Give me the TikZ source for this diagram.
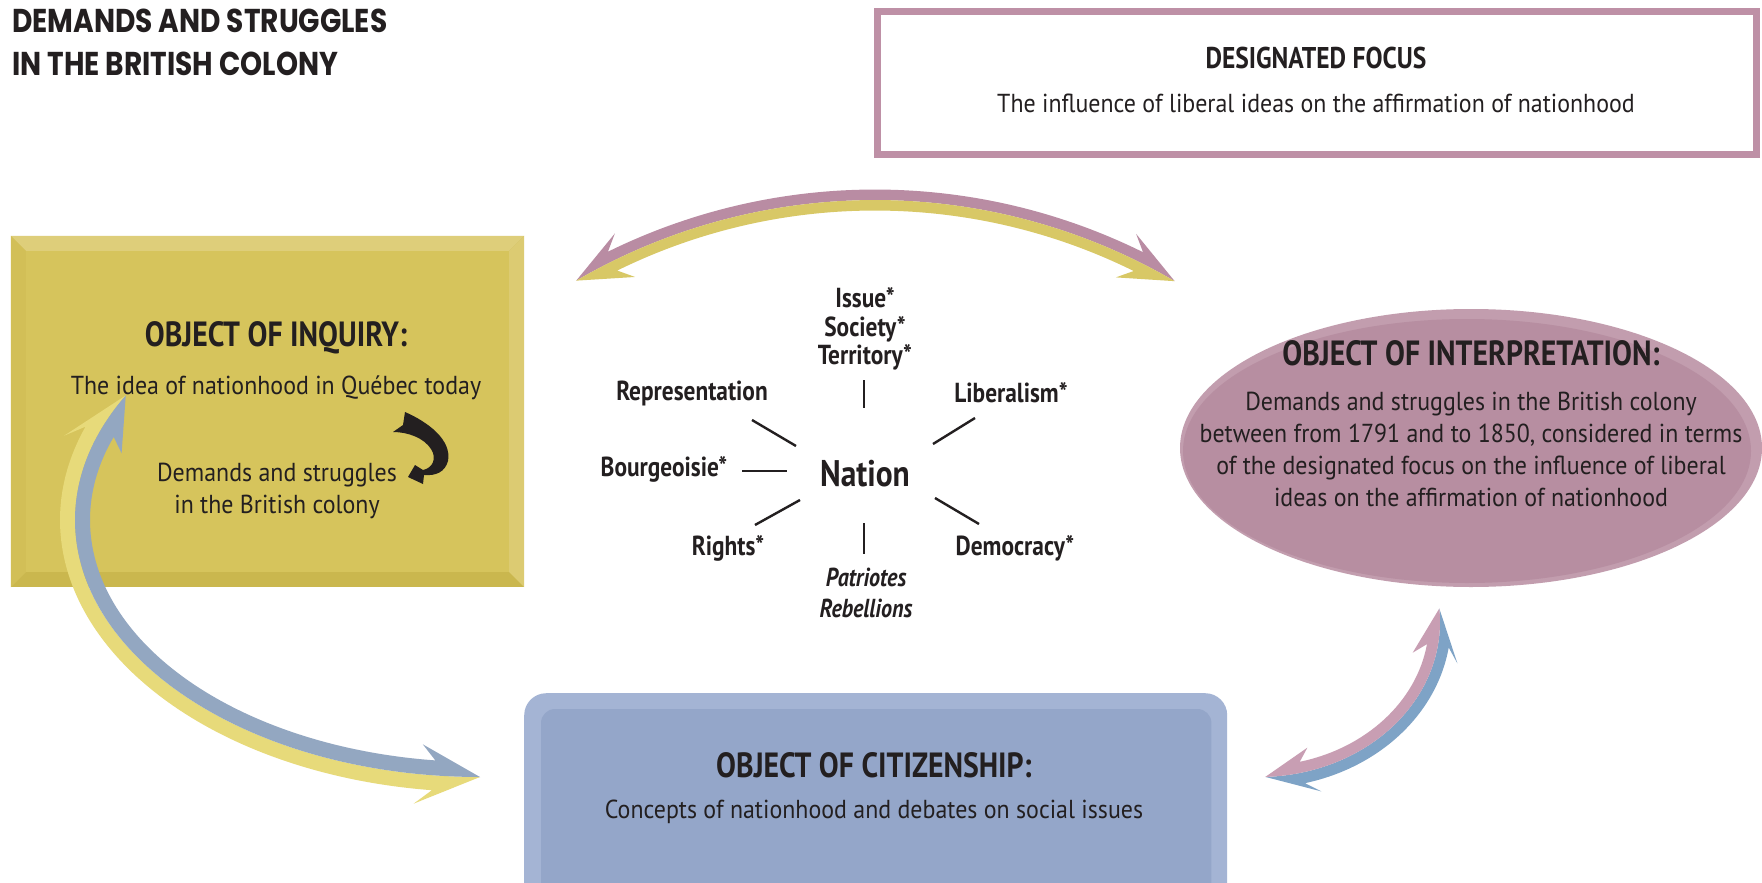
\documentclass[tikz,border=0pt]{standalone}
\usepackage{fontspec}
\setmainfont{PT Sans}[FakeStretch=0.92, BoldFeatures={FakeStretch=0.85}, ItalicFeatures={FakeStretch=0.92}, BoldItalicFeatures={FakeStretch=0.85}]
\newfontfamily\titlefont{Poppins}[FakeStretch=0.85]
\usetikzlibrary{shapes.geometric,calc}
\definecolor{txt}{HTML}{231F20}
\definecolor{yelMain}{HTML}{D6C45C}
\definecolor{yelTop}{HTML}{DECE7A}
\definecolor{yelRight}{HTML}{DCCB72}
\definecolor{yelLeft}{HTML}{D2BF57}
\definecolor{yelBot}{HTML}{CAB74E}
\definecolor{pinkMain}{HTML}{B78EA1}
\definecolor{pinkRim}{HTML}{C29DAE}
\definecolor{pinkBorder}{HTML}{BE90A6}
\definecolor{bluMain}{HTML}{94A6C9}
\definecolor{bluRim}{HTML}{A4B4D4}
\definecolor{arPink}{HTML}{B98CA3}
\definecolor{arYel}{HTML}{D8C866}
\definecolor{arYelL}{HTML}{E7DA7A}
\definecolor{arBlu}{HTML}{93A7C1}
\definecolor{arBluR}{HTML}{7EA3C6}
\definecolor{arPinkR}{HTML}{C89EB3}
% two-tone double-headed band arrow along an ellipse
% #1 cx #2 cy #3 rx #4 ry #5 start angle #6 end angle #7 half width #8 head half width #9 head length
\newcommand\bandarrow[9]{%
 \pgfmathsetmacro\bsg{(#6>#5)?1:-1}%
 \pgfmathsetmacro\spA{100*veclen(#3/100*sin(#5),#4/100*cos(#5))}%
 \pgfmathsetmacro\spB{100*veclen(#3/100*sin(#6),#4/100*cos(#6))}%
 \pgfmathsetmacro\dA{#9/\spA*57.2958}%
 \pgfmathsetmacro\dB{#9/\spB*57.2958}%
 \pgfmathsetmacro\bA{#5+\bsg*\dA}%
 \pgfmathsetmacro\nA{#5+\bsg*0.75*\dA}%
 \pgfmathsetmacro\bB{#6-\bsg*\dB}%
 \pgfmathsetmacro\nB{#6-\bsg*0.75*\dB}%
 \foreach \k/\c in {1/\bandA,-1/\bandB}{%
   \fill[fill=\c] ({#1+#3*cos(#5)},{#2+#4*sin(#5)})
     -- ({#1+(#3+\k*#8)*cos(\bA)},{#2+(#4+\k*#8)*sin(\bA)})
     -- ({#1+(#3+\k*#7)*cos(\nA)},{#2+(#4+\k*#7)*sin(\nA)})
     arc[start angle=\nA, end angle=\nB, x radius={#3+\k*#7}, y radius={#4+\k*#7}]
     -- ({#1+(#3+\k*#8)*cos(\bB)},{#2+(#4+\k*#8)*sin(\bB)})
     -- ({#1+#3*cos(#6)},{#2+#4*sin(#6)})
     arc[start angle=#6, end angle=#5, x radius=#3, y radius=#4]
     -- cycle;}%
}
\tikzset{
  every node/.style={text=txt, inner sep=0pt},
  titletext/.style={anchor=base west, font=\titlefont\bfseries\fontsize{33}{33}\selectfont},
  headtext/.style={font=\bfseries\fontsize{35}{35}\selectfont},
  bodytext/.style={align=center, font=\fontsize{26}{32}\selectfont},
  concept/.style={align=center, font=\bfseries\fontsize{27.5}{28.5}\selectfont},
  spoke/.style={line width=2.4pt, draw=txt},
}
\begin{document}
\begin{tikzpicture}[x=1pt,y=-1pt]
\useasboundingbox (0,0) rectangle (1762,883);
\clip (0,0) rectangle (1762,883);
\fill[white] (0,0) rectangle (1762,883);

% title
\node[titletext] (title1) at (12,33) {DEMANDS AND STRUGGLES};
\node[titletext] (title2) at (12,76) {IN THE BRITISH COLONY};

% designated focus
\node[draw=pinkBorder, line width=7pt, minimum width=879pt, minimum height=143pt] (focus) at (1317,83) {};
\node[font=\bfseries\fontsize{30}{30}\selectfont] (focush) at (1316,58) {DESIGNATED FOCUS};
\node[font=\fontsize{26}{26}\selectfont] (focust) at (1316,103) {The influence of liberal ideas on the affirmation of nationhood};

% object of inquiry box (bevelled)
\node[minimum width=513pt, minimum height=351pt, fill=yelBot] (inquiry) at (267.5,411.5) {};
\fill[yelTop] (inquiry.north west) -- (inquiry.north east) -- ($(inquiry.north east)+(-15,15)$) -- ($(inquiry.north west)+(15,15)$) -- cycle;
\fill[yelRight] (inquiry.north east) -- (inquiry.south east) -- ($(inquiry.south east)+(-15,-15)$) -- ($(inquiry.north east)+(-15,15)$) -- cycle;
\fill[yelLeft] (inquiry.north west) -- ($(inquiry.north west)+(15,15)$) -- ($(inquiry.south west)+(15,-15)$) -- (inquiry.south west) -- cycle;
\fill[yelMain] ($(inquiry.north west)+(15,15)$) rectangle ($(inquiry.south east)+(-15,-15)$);
\node[headtext] (inqh) at (276,338) {OBJECT OF INQUIRY:};
\node[bodytext] (inqt) at (276,388) {The idea of nationhood in Québec today};
\node[bodytext] (inqt2) at (277,491) {Demands and struggles\\in the British colony};
% small black curved arrow
\fill[txt] (405,412) .. controls (428,422) and (452,440) .. (448,461)
  .. controls (445,472) and (436,476) .. (424,475) -- (423,484) -- (408,477) -- (415,465) -- (423,470)
  .. controls (433,468) and (437,458) .. (431,449)
  .. controls (424,438) and (408,432) .. (393,432) -- (403,425) -- cycle;

% object of interpretation ellipse
\node[ellipse, minimum width=582pt, minimum height=278pt, fill=pinkRim] (interp) at (1471,448) {};
\fill[pinkMain] (1467,451) ellipse [x radius=284, y radius=132];
\node[headtext] (interph) at (1471,353) {OBJECT OF INTERPRETATION:};
\node[bodytext] (interpt) at (1471,449) {Demands and struggles in the British colony\\between from 1791 and to 1850, considered in terms\\of the designated focus on the influence of liberal\\ideas on the affirmation of nationhood};

% object of citizenship box
\node[fill=bluRim, rounded corners=22pt, minimum width=703pt, minimum height=220pt, anchor=north west] (citizen) at (524,693) {};
\fill[bluMain, rounded corners=14pt] ($(citizen.north west)+(17,16)$) rectangle ($(citizen.south east)+(-16,0)$);
\node[headtext] (cith) at (874,765) {OBJECT OF CITIZENSHIP:};
\node[bodytext] (citt) at (874,812) {Concepts of nationhood and debates on social issues};

% band arrows
\def\bandA{arPink}\def\bandB{arYel}
\bandarrow{875}{794}{594}{594}{-120.2}{-59.7}{10.5}{24}{55}
\def\bandA{arYelL}\def\bandB{arBlu}
\bandarrow{480}{520}{405}{257}{209}{90}{15}{30}{62}
\def\bandA{arBluR}\def\bandB{arPinkR}
\bandarrow{1259}{622}{181}{155}{-5}{88}{11}{23}{50}

% central concept map
\node[headtext, font=\bfseries\fontsize{37}{37}\selectfont] (nation) at (865,474) {Nation};
\node[concept] (issues) at (865,329) {Issue*\\Society*\\Territory*};
\node[concept] (rep) at (692,393) {Representation};
\node[concept] (lib) at (1011,393) {Liberalism*};
\node[concept] (bour) at (664,469) {Bourgeoisie*};
\node[concept] (rights) at (728,548) {Rights*};
\node[concept] (demo) at (1015,548) {Democracy*};
\node[concept, font=\bfseries\itshape\fontsize{26}{31}\selectfont] (patr) at (866,593) {Patriotes\\Rebellions};

\coordinate (su1) at (864,380); \coordinate (su2) at (864,408);
\coordinate (sul1) at (752,420); \coordinate (sul2) at (796,446);
\coordinate (sur1) at (975,418); \coordinate (sur2) at (933,444);
\coordinate (sl1) at (742,471); \coordinate (sl2) at (787,471);
\coordinate (sll1) at (755,525); \coordinate (sll2) at (800,500);
\coordinate (slr1) at (935,498); \coordinate (slr2) at (979,524);
\coordinate (sd1) at (864,523); \coordinate (sd2) at (864,554);
\draw[spoke] (su1) -- (su2);
\draw[spoke] (sul1) -- (sul2);
\draw[spoke] (sur1) -- (sur2);
\draw[spoke] (sl1) -- (sl2);
\draw[spoke] (sll1) -- (sll2);
\draw[spoke] (slr1) -- (slr2);
\draw[spoke] (sd1) -- (sd2);
\end{tikzpicture}
\end{document}
